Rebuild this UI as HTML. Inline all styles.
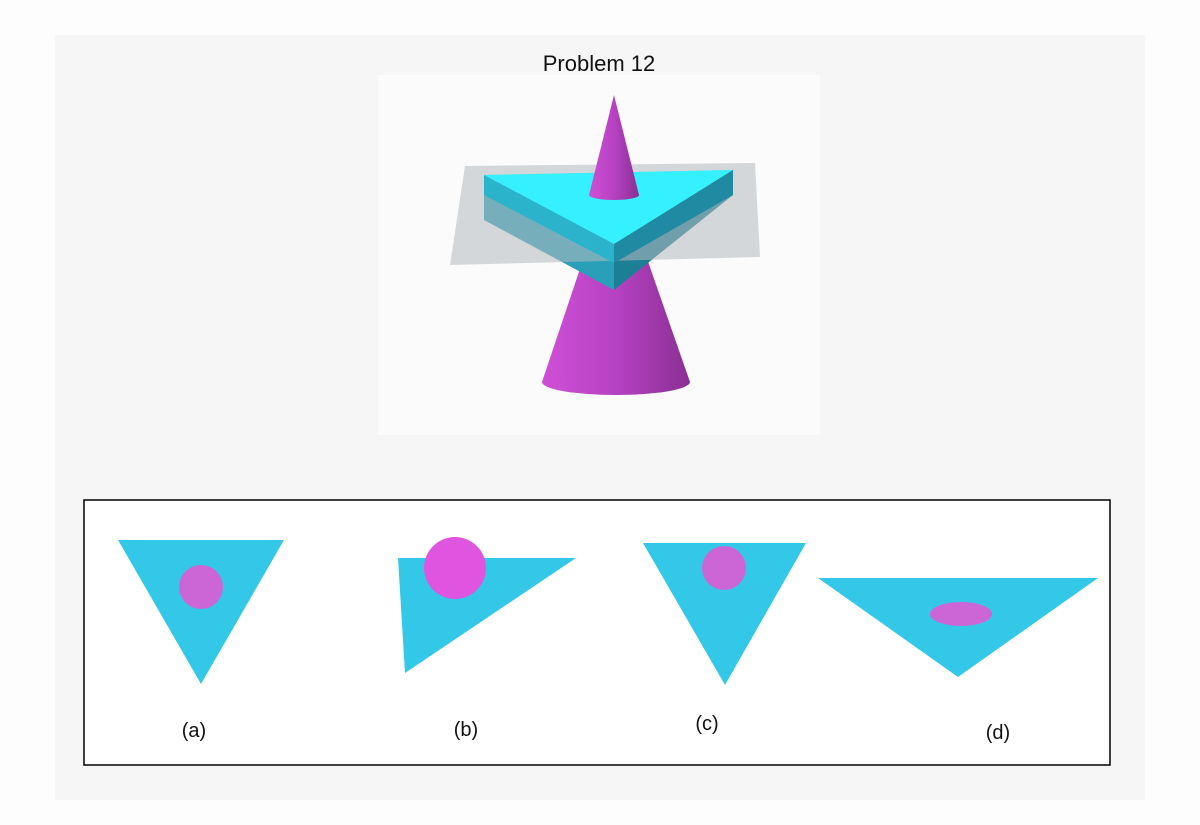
<!DOCTYPE html>
<html><head><meta charset="utf-8"><style>
html,body{margin:0;padding:0;background:#fff;}
svg{display:block;font-family:"Liberation Sans",sans-serif;}
</style></head><body>
<svg width="1200" height="825" viewBox="0 0 1200 825">
<defs>
<linearGradient id="coneG" x1="0" x2="1" y1="0" y2="0">
<stop offset="0" stop-color="#cf4fd6"/><stop offset="0.5" stop-color="#b642c2"/><stop offset="1" stop-color="#8a2f94"/>
</linearGradient>
</defs>
<rect x="0" y="0" width="1200" height="825" fill="#fdfdfd"/>
<rect x="55" y="35" width="1090" height="765" fill="#f6f6f6"/>
<rect x="378" y="75" width="442" height="360" fill="#fbfbfb"/>
<text x="599" y="71" font-size="22" text-anchor="middle" fill="#111">Problem 12</text>

<g>
<path d="M593 230 L637 230 L690 382 A74 13 0 0 1 542 382 Z" fill="url(#coneG)"/>
</g>
<g>
<polygon points="484,175 614,244 614,290 484,220" fill="#2aa0b8"/>
<polygon points="614,244 733,170 733,195 614,290" fill="#1d7f96"/>
<polygon points="484,175 733,170 614,244" fill="#35f0ff"/>
</g>
<polygon points="465,166 755,163 760,257 450,265" fill="#b4babd" fill-opacity="0.55"/>
<g>
<polygon points="484,175 733,170 614,244" fill="#35f0ff"/>
<polygon points="614,244 733,170 733,195 614,263" fill="#1f8aa2"/>
<polygon points="484,175 614,244 614,263 484,195" fill="#2bb3cc"/>
</g>
<g>
<path d="M614 95 L639 195 A25 5 0 0 1 589 195 Z" fill="url(#coneG)"/>
</g>

<rect x="84" y="500" width="1026" height="265" fill="#fff" stroke="#000" stroke-width="1.5"/>
<g>
<polygon points="118,540 284,540 201,684" fill="#33c8e8"/>
<circle cx="201" cy="587" r="22" fill="#cc66d6"/>
<text x="194" y="737" font-size="20" text-anchor="middle" fill="#111">(a)</text>
</g>
<g>
<polygon points="398,558 576,558 405,673" fill="#33c8e8"/>
<circle cx="455" cy="568" r="31" fill="#e055e0"/>
<text x="466" y="736" font-size="20" text-anchor="middle" fill="#111">(b)</text>
</g>
<g>
<polygon points="643,543 806,543 725,685" fill="#33c8e8"/>
<circle cx="724" cy="568" r="22" fill="#cc66d6"/>
<text x="707" y="730" font-size="20" text-anchor="middle" fill="#111">(c)</text>
</g>
<g>
<polygon points="818,578 1098,578 958,677" fill="#33c8e8"/>
<ellipse cx="961" cy="614" rx="31" ry="12" fill="#cc66d6"/>
<text x="998" y="739" font-size="20" text-anchor="middle" fill="#111">(d)</text>
</g>
</svg>
</body></html>
